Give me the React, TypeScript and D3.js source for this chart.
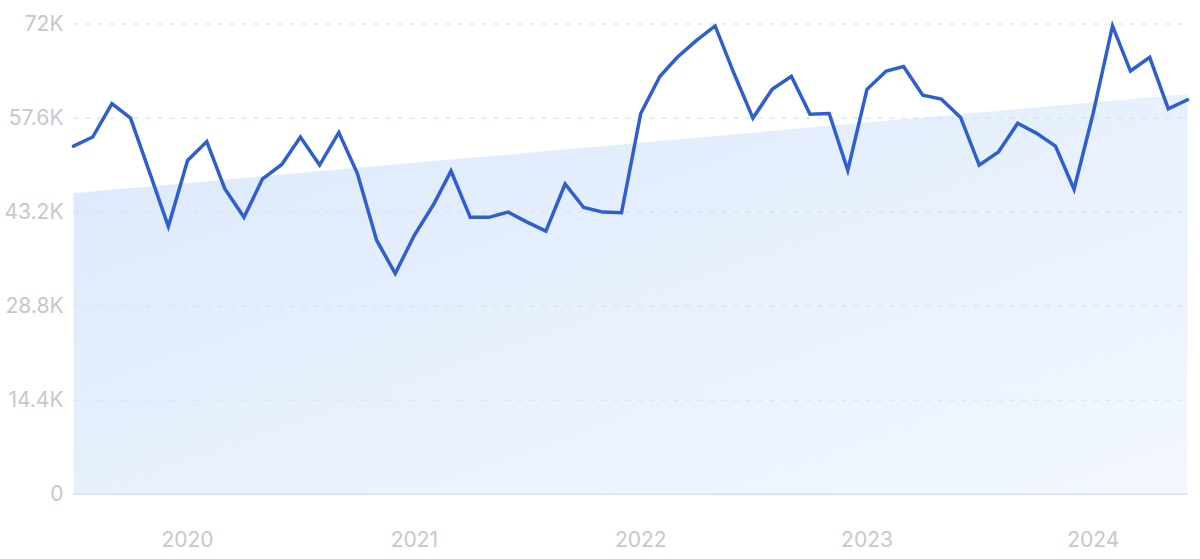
import React from "react";
import * as d3 from "d3";

const startYear = 2019;
const startMonth = 6; // July (0-based)
const values: number[] = [
  53300, 54700, 59800, 57600, 49200, 41000, 51100, 54000, 46800, 42400,
  48300, 50500, 54700, 50400, 55400, 49100, 38900, 33800, 39700, 44400,
  49500, 42400, 42400, 43200, 41700, 40300, 47500, 43900, 43200, 43100,
  58300, 64000, 66900, 69500, 71700, 64300, 57600, 62000, 64000, 58200,
  58300, 49600, 62000, 64800, 65500, 61100, 60500, 57700, 50400, 52400,
  56800, 55300, 53300, 46700, 58400, 71700, 64800, 66900, 59000, 60400,
];
const trendStart = 46100;
const trendEnd = 61300;
const yTicks: number[] = [0, 14400, 28800, 43200, 57600, 72000];
const yTickLabels: string[] = ["0", "14.4K", "28.8K", "43.2K", "57.6K", "72K"];
const xTickYears: number[] = [2020, 2021, 2022, 2023, 2024];

const W = 1200;
const H = 559;
const margin = { left: 73.5, right: 12.5, top: 24, bottom: 64.7 };

export default function App() {
  const dates = values.map((_, i) => new Date(startYear, startMonth + i, 1));
  const x = d3
    .scaleTime()
    .domain([dates[0], dates[dates.length - 1]])
    .range([margin.left, W - margin.right]);
  const y = d3
    .scaleLinear()
    .domain([0, 72000])
    .range([H - margin.bottom, margin.top]);

  const line = d3
    .line<number>()
    .x((_, i) => x(dates[i]))
    .y((d) => y(d));

  const trendData = [
    { d: dates[0], v: trendStart },
    { d: dates[dates.length - 1], v: trendEnd },
  ];
  const area = d3
    .area<{ d: Date; v: number }>()
    .x((p) => x(p.d))
    .y0(y(0))
    .y1((p) => y(p.v));

  const x0 = x(dates[0]);
  const x1 = x(dates[dates.length - 1]);
  const font = "Inter, 'Noto Sans', sans-serif";

  return (
    <svg width={W} height={H} style={{ position: "absolute", left: 0, top: 0 }}>
      <defs>
        <linearGradient id="fillGrad" x1="0" y1="0" x2="1" y2="1">
          <stop offset="0%" stopColor="#dbe8fb" />
          <stop offset="100%" stopColor="#f3f8fe" />
        </linearGradient>
      </defs>
      <rect width={W} height={H} fill="#ffffff" />
      <path d={area(trendData) || ""} fill="url(#fillGrad)" />
      {yTicks.map((t) =>
        t === 0 ? null : (
          <line
            key={"g" + t}
            x1={x0}
            x2={x1}
            y1={y(t)}
            y2={y(t)}
            stroke="#d8e1f2"
            strokeWidth={1.2}
            strokeDasharray="5 7"
          />
        )
      )}
      <line x1={x0} x2={x1} y1={y(0)} y2={y(0)} stroke="#d3e0f7" strokeWidth={1.5} />
      {yTicks.map((t, i) => (
        <text
          key={"l" + t}
          x={63.5}
          y={y(t) - 1}
          textAnchor="end"
          dominantBaseline="central"
          fill="#c4c8cf"
          fontSize={21}
          fontFamily={font}
        >
          {yTickLabels[i]}
        </text>
      ))}
      {xTickYears.map((yr) => (
        <text
          key={"x" + yr}
          x={x(new Date(yr, 0, 1))}
          y={539.5}
          textAnchor="middle"
          dominantBaseline="central"
          fill="#c4c8cf"
          fontSize={21}
          fontFamily={font}
        >
          {yr}
        </text>
      ))}
      <path
        d={line(values) || ""}
        fill="none"
        stroke="#2d5fd3"
        strokeWidth={3.5}
        strokeLinejoin="miter"
        strokeLinecap="round"
      />
    </svg>
  );
}
